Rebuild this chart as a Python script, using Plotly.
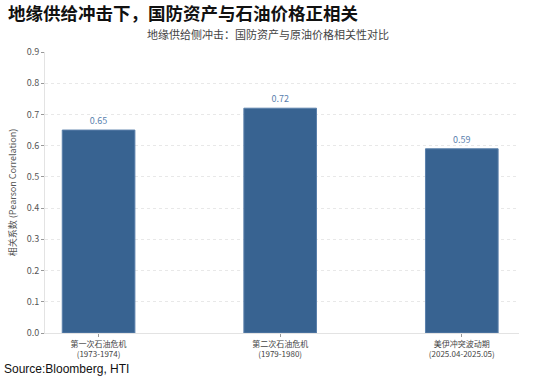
import plotly.graph_objects as go

categories = ["第一次石油危机<br>(1973-1974)", "第二次石油危机<br>(1979-1980)", "美伊冲突波动期<br>(2025.04-2025.05)"]
values = [0.65, 0.72, 0.59]
value_labels = ["0.65", "0.72", "0.59"]
y_ticks = [0.0, 0.1, 0.2, 0.3, 0.4, 0.5, 0.6, 0.7, 0.8, 0.9]

FONT = "Noto Sans CJK SC"

W, H = 550, 378
L, R, T, B = 41, 31, 52, 45
pw, ph = W - L - R, H - T - B


def px(x):
    return (x - L) / pw


def py(y):
    return (H - y - B) / ph


fig = go.Figure()
fig.add_trace(go.Bar(
    x=[0, 1, 2],
    y=values,
    width=0.4,
    marker=dict(color="#386391", line=dict(color="#5b80ab", width=1)),
    text=value_labels,
    textposition="outside",
    textfont=dict(size=9, color="#5a7fae", family=FONT),
    cliponaxis=False,
    hoverinfo="skip",
))

fig.update_layout(
    width=W, height=H,
    margin=dict(l=L, r=R, t=T, b=B),
    paper_bgcolor="white",
    plot_bgcolor="white",
    showlegend=False,
    font=dict(family=FONT, color="#444"),
    xaxis=dict(
        range=[-0.295, 2.315],
        tickmode="array",
        tickvals=[0, 1, 2],
        ticktext=categories,
        tickfont=dict(size=8, color="#444"),
        showgrid=False,
        showline=True, linecolor="#e3e3e3", linewidth=1,
        ticks="outside", ticklen=3, tickcolor="#999",
        zeroline=False,
    ),
    yaxis=dict(
        range=[0, 0.9],
        tickmode="array",
        tickvals=y_ticks,
        ticktext=[f"{v:.1f}" for v in y_ticks],
        tickfont=dict(size=9, color="#555"),
        showgrid=True, gridcolor="#e8e8e8", griddash="dot", gridwidth=1,
        showline=True, linecolor="#e3e3e3", linewidth=1,
        ticks="outside", ticklen=3, tickcolor="#999",
        zeroline=False,
        title=dict(text="相关系数 (Pearson Correlation)", font=dict(size=9, color="#555"), standoff=8),
    ),
    annotations=[
        dict(text="<b>地缘供给冲击下，国防资产与石油价格正相关</b>", x=px(2), y=py(13),
             xref="paper", yref="paper", showarrow=False,
             font=dict(size=17.5, color="#111", family=FONT), xanchor="left", yanchor="middle"),
        dict(text="地缘供给侧冲击：国防资产与原油价格相关性对比", x=px(266), y=py(34),
             xref="paper", yref="paper", showarrow=False,
             font=dict(size=11, color="#444", family=FONT), xanchor="center", yanchor="middle"),
        dict(text="Source:Bloomberg, HTI", x=px(-2), y=py(369),
             xref="paper", yref="paper", showarrow=False,
             font=dict(size=12, color="#111", family="Liberation Sans"), xanchor="left", yanchor="middle"),
    ],
)

fig.write_html("out.html", post_script="document.body.style.margin='0';",
               config={"displayModeBar": False})
